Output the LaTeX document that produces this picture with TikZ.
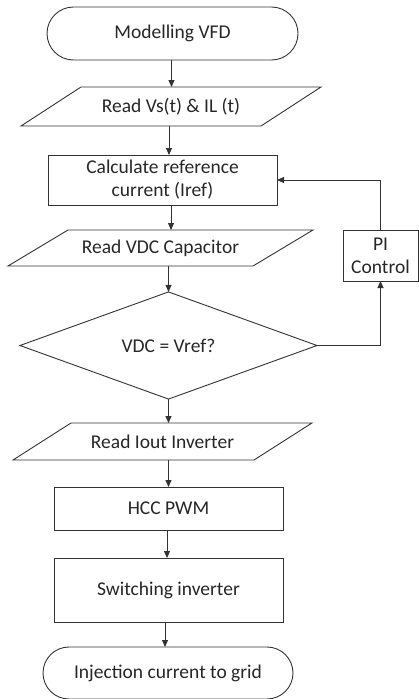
\documentclass[tikz,border=0pt]{standalone}
\usepackage{fontspec}
\setmainfont{Carlito}
\usetikzlibrary{shapes.geometric,shapes.misc,arrows.meta}
\begin{document}
\begin{tikzpicture}[x=1pt,y=-1pt,
  every node/.style={font=\fontsize{19.5}{23}\selectfont, text=black!85, inner sep=0pt, outer sep=0pt, align=center},
  ln/.style={draw=black!80, line width=0.9pt},
  term/.style={ln, rounded rectangle},
  box/.style={ln, rectangle},
  parabody/.style={rectangle},
  dia/.style={ln, diamond},
  arr/.style={ln, -{Triangle[length=7pt,width=6pt]}}
]
\useasboundingbox (0,0) rectangle (419,699);
% nodes
\node[term, minimum width=251pt, minimum height=53pt] (start) at (172.5,33.5) {Modelling VFD};
\node[parabody, minimum width=240pt, minimum height=39pt] (p1) at (171,106.5) {Read Vs(t) \& IL (t)};
\node[box, minimum width=229pt, minimum height=50pt] (calc) at (162.5,180) {Calculate reference\\current (Iref)};
\node[parabody, minimum width=245pt, minimum height=36pt] (p2) at (160.5,248) {Read VDC Capacitor};
\node[box, minimum width=75pt, minimum height=51pt] (pi) at (380.5,255.5) {PI\\Control};
\node[dia, minimum width=297pt, minimum height=101pt] (dec) at (168.5,345.5) {VDC = Vref?};
\node[parabody, minimum width=241pt, minimum height=37pt] (p3) at (162.5,441.5) {Read Iout Inverter};
\node[box, minimum width=229pt, minimum height=43pt] (hcc) at (168.5,508.5) {HCC PWM};
\node[box, minimum width=229pt, minimum height=64pt] (sw) at (168.5,590) {Switching inverter};
\node[term, minimum width=250pt, minimum height=52pt] (end) at (168,673) {Injection current to grid};
% parallelogram outlines
\draw[ln] ([xshift=30pt]p1.north west) -- ([xshift=30pt]p1.north east) -- ([xshift=-30pt]p1.south east) -- ([xshift=-30pt]p1.south west) -- cycle;
\draw[ln] ([xshift=30pt]p2.north west) -- ([xshift=30pt]p2.north east) -- ([xshift=-30pt]p2.south east) -- ([xshift=-30pt]p2.south west) -- cycle;
\draw[ln] ([xshift=29pt]p3.north west) -- ([xshift=29pt]p3.north east) -- ([xshift=-29pt]p3.south east) -- ([xshift=-29pt]p3.south west) -- cycle;
% connectors
\draw[arr] ([xshift=-1pt]start.south) -- ([xshift=-1pt]start.south |- p1.north);
\draw[arr] ([xshift=-2pt]p1.south) -- ([xshift=-2pt]p1.south |- calc.north);
\draw[arr] ([xshift=8.5pt]calc.south) -- ([xshift=8.5pt]calc.south |- p2.north);
\draw[arr] (p2.south -| dec.north) -- (dec.north);
\draw[arr] (dec.south) -- (dec.south |- p3.north);
\draw[arr] (hcc.north |- p3.south) -- (hcc.north);
\draw[arr] ([xshift=-1.5pt]hcc.south) -- ([xshift=-1.5pt]hcc.south |- sw.north);
\draw[arr] ([xshift=-3.5pt]sw.south) -- ([xshift=-3.5pt]sw.south |- end.north);
\draw[arr] (dec.east) -| (pi.south);
\draw[arr] (pi.north) |- (calc.east);
\end{tikzpicture}
\end{document}
